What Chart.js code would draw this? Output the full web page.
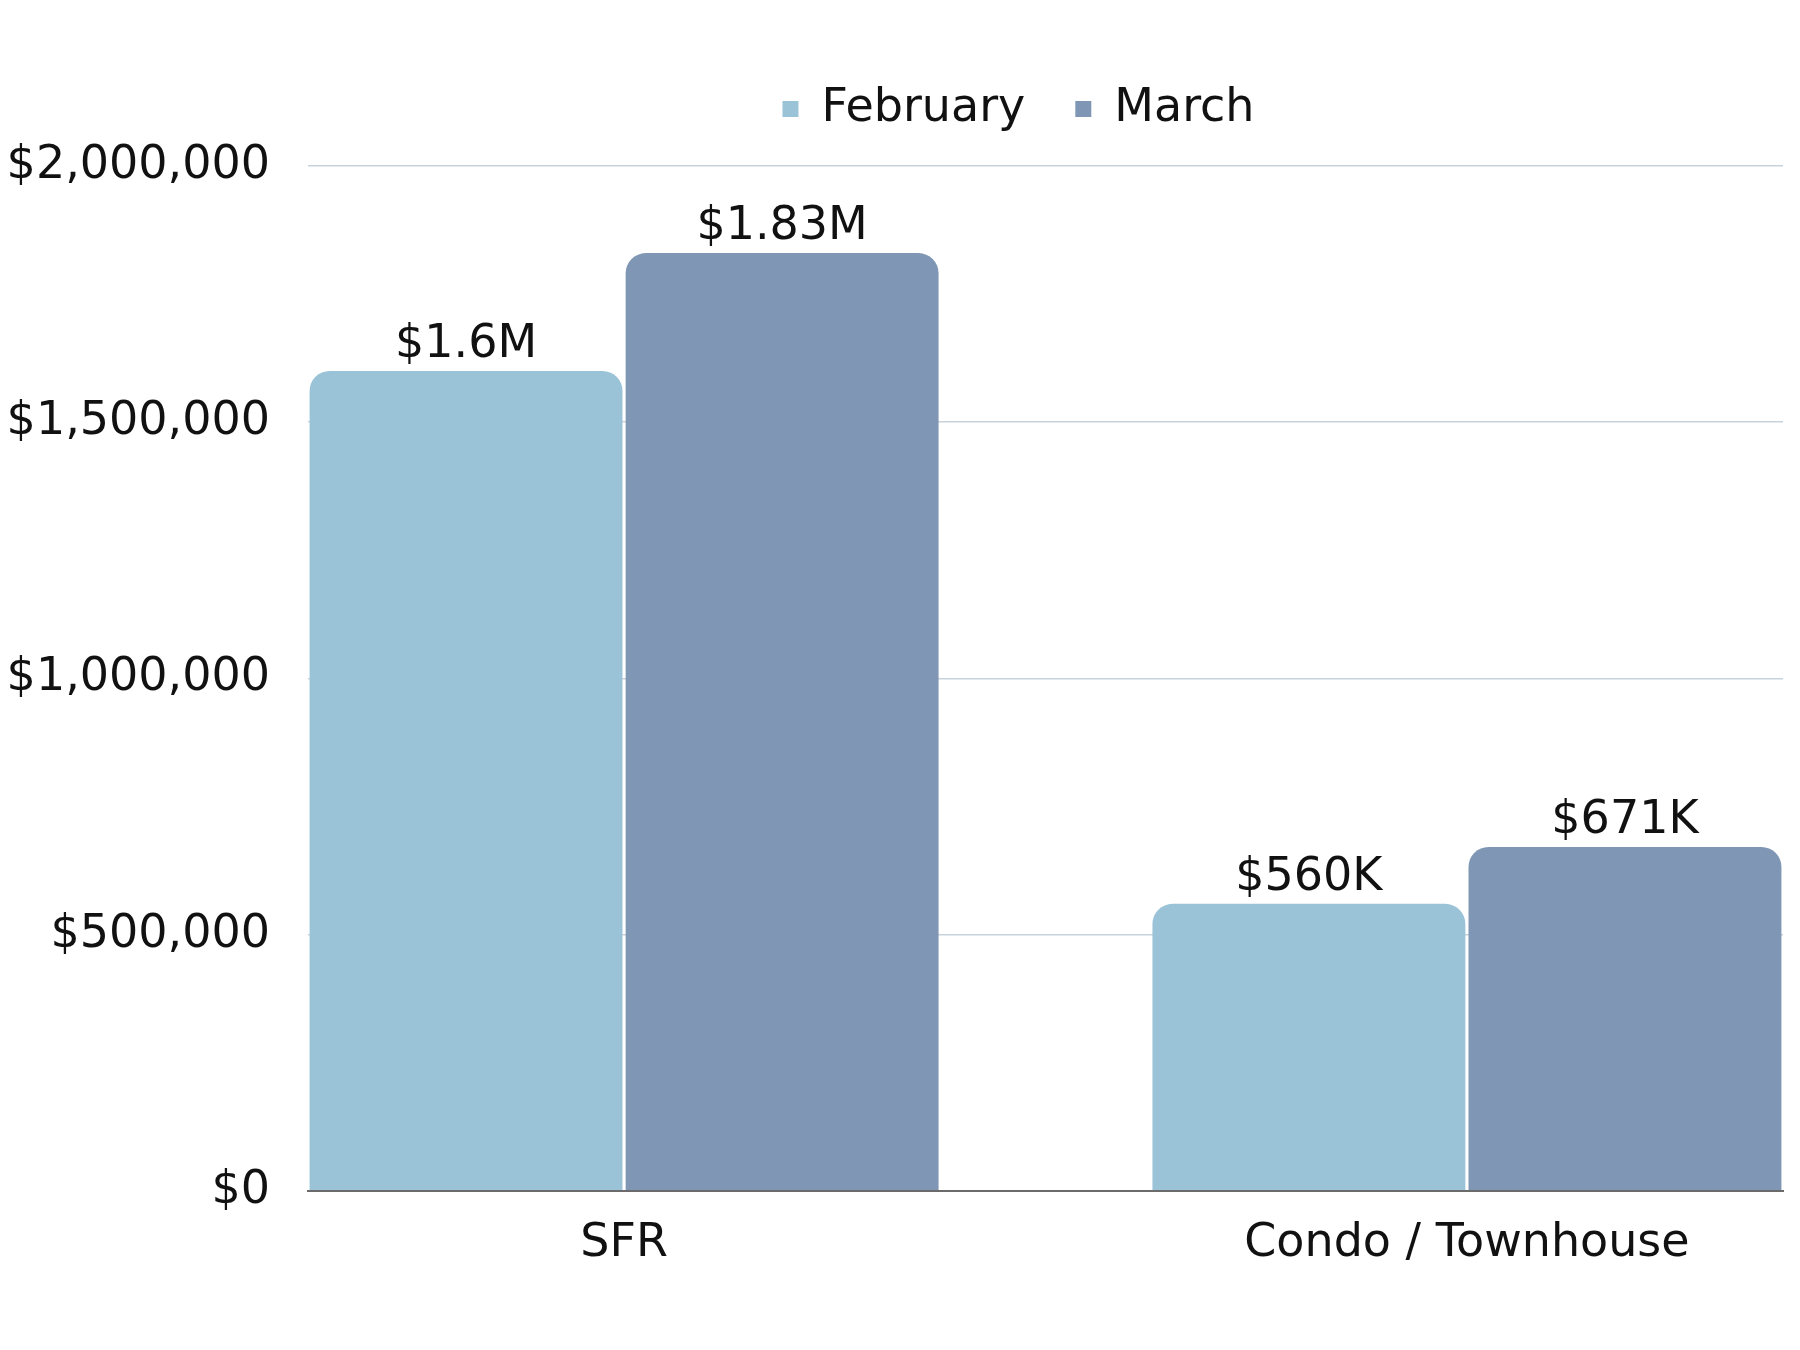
<!DOCTYPE html>
<html>
<head>
<meta charset="utf-8">
<script src="https://cdn.jsdelivr.net/npm/chart.js@4/dist/chart.umd.min.js"></script>
<style>
  html, body { margin: 0; padding: 0; background: #fff; }
  #wrap { width: 1800px; height: 1350px; }
</style>
</head>
<body>
<div id="wrap"><canvas id="chart"></canvas></div>
<script>
const categories = ['SFR', 'Condo / Townhouse'];
const seriesNames = ['February', 'March'];
const febValues = [1600000, 560000];
const marValues = [1830000, 671000];
const yTicks = [0, 500000, 1000000, 1500000, 2000000];

const FONT = '"DejaVu Sans", sans-serif';

function shortMoney(v) {
  if (v >= 1000000) return '$' + (v / 1000000) + 'M';
  return '$' + Math.round(v / 1000) + 'K';
}

// value labels above each bar
const barLabels = {
  id: 'barLabels',
  afterDatasetsDraw(chart) {
    const ctx = chart.ctx;
    ctx.save();
    ctx.font = '46px ' + FONT;
    ctx.fillStyle = '#111';
    ctx.textAlign = 'center';
    ctx.textBaseline = 'alphabetic';
    chart.data.datasets.forEach((ds, di) => {
      chart.getDatasetMeta(di).data.forEach((bar, i) => {
        ctx.fillText(shortMoney(ds.data[i].y), bar.x, bar.y - 14);
      });
    });
    ctx.restore();
  }
};

// legend in the reference sits over the plot and closer to the top gridline
const legendShift = {
  id: 'legendShift',
  afterLayout(chart) {
    const lg = chart.legend;
    const dx = (chart.chartArea.left + chart.chartArea.right) / 2 - (lg.left + lg.right) / 2 - 27;
    lg.left += dx;
    lg.right += dx;
    lg.top -= 24;
    lg.bottom -= 24;
  }
};

new Chart(document.getElementById('chart'), {
  type: 'bar',
  data: {
    datasets: [
      {
        label: seriesNames[0],
        data: categories.map((c, i) => ({ x: i, y: febValues[i] })),
        backgroundColor: '#9bc3d8'
      },
      {
        label: seriesNames[1],
        data: categories.map((c, i) => ({ x: i, y: marValues[i] })),
        backgroundColor: '#7f97b4'
      }
    ]
  },
  plugins: [barLabels, legendShift],
  options: {
    responsive: true,
    maintainAspectRatio: false,
    animation: false,
    devicePixelRatio: 1,
    layout: { padding: { top: 60, left: 4, right: 17, bottom: 52 } },
    datasets: {
      bar: {
        categoryPercentage: 0.75,
        barPercentage: 0.99,
        borderRadius: { topLeft: 20, topRight: 20, bottomLeft: 0, bottomRight: 0 },
        borderSkipped: false
      }
    },
    plugins: {
      tooltip: { enabled: false },
      legend: {
        position: 'top',
        labels: {
          usePointStyle: true,
          pointStyle: 'rect',
          boxWidth: 16,
          boxHeight: 16,
          padding: 50,
          color: '#111',
          font: { family: FONT, size: 46, lineHeight: 1 }
        }
      }
    },
    scales: {
      x: {
        type: 'linear',
        offset: false,
        min: -0.375,
        max: 1.375,
        afterBuildTicks: (scale) => {
          scale.ticks = categories.map((c, i) => ({ value: i }));
        },
        grid: { display: false, drawTicks: false },
        border: { display: true, color: '#6b6b6b', width: 2 },
        ticks: {
          padding: 26,
          color: '#111',
          font: { family: FONT, size: 46 },
          callback: (v) => categories[v]
        }
      },
      y: {
        min: 0,
        max: 2000000,
        afterBuildTicks: (scale) => {
          scale.ticks = yTicks.map(v => ({ value: v }));
        },
        afterFit: (scale) => { scale.width = 304; },
        grid: { color: '#c8d3dc', lineWidth: 1.5, drawTicks: false },
        border: { display: false },
        ticks: {
          padding: 38,
          color: '#111',
          font: { family: FONT, size: 46 },
          callback: (v) => '$' + v.toLocaleString('en-US')
        }
      }
    }
  }
});
</script>
</body>
</html>
